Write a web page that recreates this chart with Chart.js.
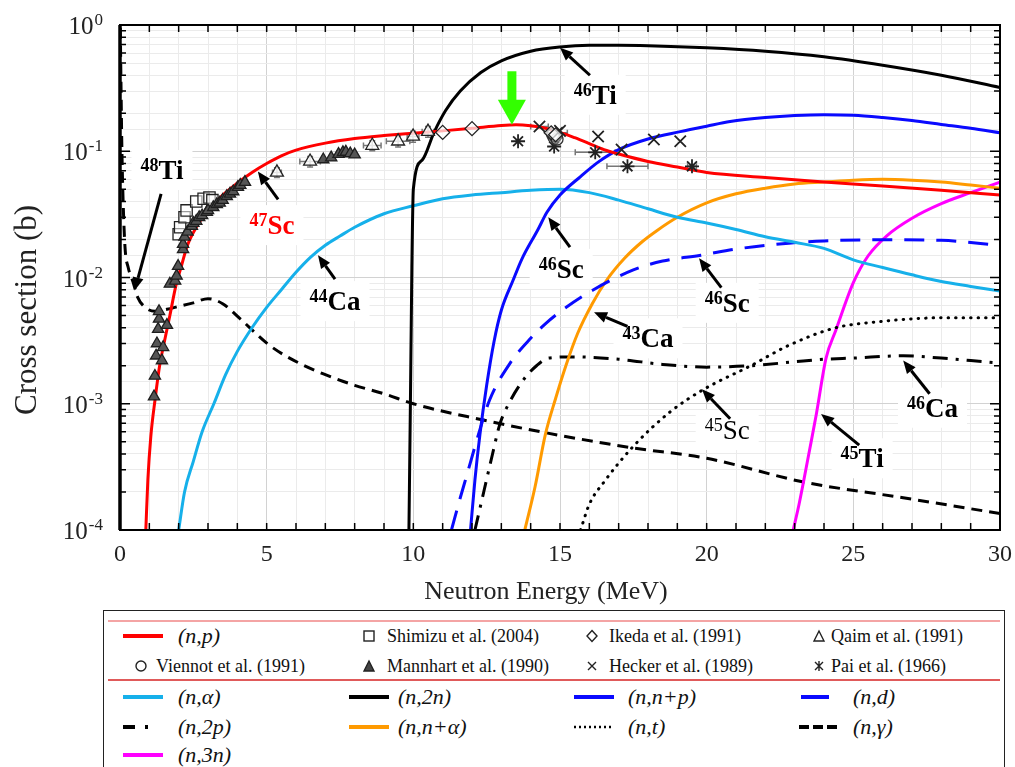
<!DOCTYPE html>
<html>
<head>
<meta charset="utf-8">
<script src="https://cdn.jsdelivr.net/npm/chart.js@4.4.1/dist/chart.umd.min.js"></script>
<style>
  body { margin: 0; background: #fff; width: 1015px; height: 767px; overflow: hidden; position: relative; font-family: "Liberation Serif", serif; }
  #wrap { position: absolute; left: 0; top: 0; width: 1015px; height: 615px; }
  #legend { position: absolute; left: 103px; top: 610px; width: 902px; height: 170px; border: 1.5px solid #222; box-sizing: border-box; background: #fff; }
  .it { position: absolute; white-space: nowrap; line-height: 1; color: #111; }
  .rx { font-style: italic; font-size: 22px; }
  .src { font-size: 18px; }
  .it svg { display: block; }
</style>
</head>
<body>
<div id="wrap"><canvas id="chart"></canvas></div>
<div id="legend"></div>
<script>
/* ---------- evaluated cross sections (E in MeV, sigma in b) ---------- */
const npE   = [0.88, 0.95, 1.05, 1.2, 1.35, 1.5, 1.7, 1.9, 2.1, 2.3, 2.6, 3.0, 3.5, 4.0, 4.5, 5.0, 5.5, 6.0, 7.0, 8.0, 9.0, 10, 11, 12, 13, 13.5, 14, 14.5, 15, 15.5, 16, 16.5, 17, 18, 19, 20, 22, 24, 26, 28, 30];
const npS   = [1e-4, 2.5e-4, 5.5e-4, 1.1e-3, 2e-3, 3e-3, 5e-3, 8.5e-3, 0.0125, 0.018, 0.025, 0.034, 0.045, 0.056, 0.068, 0.08, 0.092, 0.102, 0.116, 0.126, 0.133, 0.139, 0.145, 0.152, 0.16, 0.162, 0.159, 0.152, 0.141, 0.128, 0.115, 0.103, 0.095, 0.083, 0.075, 0.068, 0.062, 0.057, 0.053, 0.049, 0.045];

const naE   = [2.0, 2.2, 2.5, 2.8, 3.2, 3.6, 4.0, 4.5, 5.0, 5.5, 6.0, 6.5, 7.0, 7.5, 8.0, 9.0, 10, 11, 12, 13, 14, 15, 16, 17, 18, 19, 20, 21, 22, 23, 24, 25, 26, 27, 28, 29, 30];
const naS   = [1e-4, 2e-4, 3.5e-4, 6e-4, 1e-3, 1.7e-3, 2.6e-3, 4e-3, 5.8e-3, 8e-3, 0.011, 0.0145, 0.018, 0.0213, 0.025, 0.032, 0.037, 0.042, 0.045, 0.047, 0.049, 0.05, 0.047, 0.041, 0.035, 0.03, 0.027, 0.024, 0.021, 0.019, 0.017, 0.0138, 0.012, 0.0105, 0.0093, 0.0085, 0.0078];

const n2nE  = [9.85, 9.9, 9.95, 10.0, 10.3, 10.7, 11.1, 11.6, 12.3, 13, 14, 15, 16, 17, 18, 20, 22, 24, 26, 28, 30];
const n2nS  = [1e-4, 1e-3, 0.012, 0.05, 0.085, 0.14, 0.21, 0.3, 0.42, 0.52, 0.62, 0.67, 0.69, 0.69, 0.685, 0.66, 0.62, 0.56, 0.48, 0.4, 0.32];

const nnpE  = [11.95, 12.1, 12.27, 12.5, 12.75, 13.0, 13.4, 13.7, 14.25, 14.56, 15.0, 15.7, 16.3, 17, 18, 19.1, 20, 20.8, 22, 23, 24, 25, 26, 27, 28, 29, 30];
const nnpS  = [1e-4, 2.5e-4, 5.7e-4, 1.4e-3, 3.1e-3, 5.5e-3, 9.5e-3, 0.014, 0.024, 0.033, 0.045, 0.063, 0.082, 0.103, 0.125, 0.143, 0.158, 0.172, 0.185, 0.192, 0.195, 0.193, 0.185, 0.175, 0.163, 0.152, 0.14];

const ndE   = [11.3, 11.6, 11.8, 12.2, 12.6, 13.3, 14, 14.5, 15.07, 16.1, 17.5, 18.5, 19.8, 21, 22.8, 24, 26.3, 28, 30];
const ndS   = [1e-4, 1.8e-4, 2.6e-4, 5.5e-4, 1.07e-3, 2.1e-3, 3.3e-3, 4.3e-3, 5.5e-3, 7.9e-3, 0.0115, 0.0135, 0.015, 0.0168, 0.0187, 0.0195, 0.0199, 0.0197, 0.018];

const n2pE  = [12.1, 12.4, 12.7, 12.95, 13.3, 13.8, 14.2, 14.6, 15.5, 17, 18.5, 20, 21.5, 23, 24, 25, 26.7, 28, 29, 30];
const n2pS  = [1e-4, 2e-4, 4e-4, 6.9e-4, 1.05e-3, 1.6e-3, 2.0e-3, 2.3e-3, 2.35e-3, 2.25e-3, 2.05e-3, 1.95e-3, 2.0e-3, 2.15e-3, 2.25e-3, 2.3e-3, 2.4e-3, 2.3e-3, 2.2e-3, 2.1e-3];

const nnaE  = [13.8, 14.15, 14.5, 14.85, 15.2, 15.6, 16.1, 16.6, 17.2, 17.8, 18.3, 19, 20, 21, 22, 23, 24, 25, 26, 27, 28, 29, 30];
const nnaS  = [1e-4, 2.2e-4, 5.7e-4, 1.1e-3, 2e-3, 3.6e-3, 6.2e-3, 9.6e-3, 0.0142, 0.0192, 0.0235, 0.030, 0.039, 0.046, 0.051, 0.055, 0.057, 0.059, 0.06, 0.059, 0.057, 0.054, 0.051];

const ntE   = [15.7, 16.0, 16.5, 17.5, 18.75, 19.9, 21.5, 22.8, 24.4, 26, 27, 28, 30];
const ntS   = [1e-4, 1.6e-4, 2.4e-4, 4.6e-4, 8.6e-4, 1.3e-3, 2.0e-3, 2.9e-3, 4.0e-3, 4.5e-3, 4.7e-3, 4.8e-3, 4.8e-3];

const ngE   = [0.01, 0.03, 0.06, 0.1, 0.17, 0.28, 0.44, 0.6, 0.9, 1.2, 1.6, 2.0, 2.5, 3.0, 3.5, 4.1, 5.1, 6.1, 7.0, 8.0, 9.0, 10, 12.3, 14.5, 17.4, 20, 23.3, 26.7, 30];
const ngS   = [0.95, 0.4, 0.12, 0.045, 0.0175, 0.012, 9.3e-3, 7e-3, 5.7e-3, 5.4e-3, 5.6e-3, 5.9e-3, 6.3e-3, 6.8e-3, 6.2e-3, 4.7e-3, 2.9e-3, 2.1e-3, 1.7e-3, 1.4e-3, 1.2e-3, 1.0e-3, 7.5e-4, 5.9e-4, 4.5e-4, 3.7e-4, 2.4e-4, 1.8e-4, 1.35e-4];

const n3nE  = [22.95, 23.15, 23.3, 23.5, 23.74, 24.07, 24.4, 25.0, 25.5, 26.15, 27, 28, 29, 30];
const n3nS  = [1e-4, 1.6e-4, 2.4e-4, 4.2e-4, 8.3e-4, 2.3e-3, 3.8e-3, 9.1e-3, 0.0148, 0.0215, 0.0295, 0.0385, 0.047, 0.057];

/* ---------- experimental (n,p) data ---------- */
const shimizuE  = [2.0, 2.05, 2.2, 2.27, 2.6, 2.85, 3.05, 3.15];
const shimizuS  = [0.022, 0.025, 0.030, 0.034, 0.040, 0.042, 0.043, 0.041];

const ikedaE    = [11.0, 12.0, 14.7, 14.85];
const ikedaS    = [0.141, 0.151, 0.14, 0.135];

const qaimE     = [5.35, 6.48, 8.6, 9.48, 9.99, 10.5];
const qaimS     = [0.068, 0.083, 0.111, 0.12, 0.131, 0.143];
const qaimDE    = [0.15, 0.35, 0.3, 0.4, 0.2, 0.2];
const qaimDS    = [0.006, 0.008, 0.01, 0.012, 0.013, 0.014];

const viennotE  = [14.75, 14.8, 14.85, 14.9];
const viennotS  = [0.135, 0.128, 0.132, 0.125];

const mannhartE = [1.16, 1.19, 1.23, 1.26, 1.43, 1.47, 1.30, 1.6, 1.33, 1.33, 1.70, 1.88, 1.93, 1.98, 2.15, 2.15, 2.2, 2.3, 2.45, 2.5, 2.6, 2.7, 2.8, 2.96, 3.0, 3.18, 3.3, 3.4, 3.5, 3.64, 3.75, 3.86, 4.02, 4.1, 4.26,
                   6.93, 7.2, 7.45, 7.6, 7.7, 7.85, 8.0];
const mannhartS = [1.14e-3, 1.66e-3, 2.4e-3, 3.0e-3, 2.2e-3, 2.8e-3, 3.9e-3, 4.2e-3, 4.7e-3, 5.4e-3, 8.9e-3, 9.4e-3, 0.0103, 0.0123, 0.0167, 0.0184, 0.021, 0.023, 0.0255, 0.027, 0.028, 0.030, 0.031, 0.033, 0.034, 0.036, 0.038, 0.039, 0.041, 0.044, 0.046, 0.048, 0.052, 0.054, 0.057,
                   0.086, 0.089, 0.095, 0.098, 0.099, 0.096, 0.094];

const heckerE   = [14.3, 14.9, 15.0, 16.3, 17.1, 18.2, 19.1];
const heckerS   = [0.157, 0.14, 0.145, 0.131, 0.103, 0.124, 0.12];
const heckerDE  = [0.3, 0.35, 0, 0, 0, 0, 0];

const paiE      = [13.57, 14.8, 16.2, 17.3, 19.5];
const paiS      = [0.12, 0.109, 0.098, 0.076, 0.076];
const paiDE     = [0, 0, 0.68, 0.7, 0.15];

/* ---------- annotations (data coordinates) ---------- */
const isoLabels = [
  { mass: '48', sym: 'Ti', e: 1.43,  s: 0.071,  color: '#000',    bold: true },
  { mass: '47', sym: 'Sc', e: 5.18,  s: 0.026,  color: '#ff0000', bold: true },
  { mass: '44', sym: 'Ca', e: 7.33,  s: 6.5e-3, color: '#000',    bold: true },
  { mass: '46', sym: 'Ti', e: 16.2,  s: 0.28,   color: '#000',    bold: true },
  { mass: '46', sym: 'Sc', e: 15.04, s: 0.0117, color: '#000',    bold: true },
  { mass: '46', sym: 'Sc', e: 20.7,  s: 6.3e-3, color: '#000',    bold: true },
  { mass: '43', sym: 'Ca', e: 18.0,  s: 3.3e-3, color: '#000',    bold: true },
  { mass: '45', sym: 'Sc', e: 20.7,  s: 6.2e-4, color: '#000',    bold: false },
  { mass: '45', sym: 'Ti', e: 25.3,  s: 3.7e-4, color: '#000',    bold: true },
  { mass: '46', sym: 'Ca', e: 27.7,  s: 9.3e-4, color: '#000',    bold: true }
];
const arrowFrom = [[1.4, 0.046], [5.39, 0.0416], [7.33, 9.7e-3], [16.02, 0.40], [15.34, 0.0174], [20.5, 8.3e-3], [17.3, 4.1e-3], [20.8, 7.6e-4], [25.2, 4.7e-4], [27.6, 1.2e-3]];
const arrowTo   = [[0.5, 7.9e-3], [4.7, 0.069], [6.75, 0.015], [15.0, 0.66], [14.6, 0.030], [19.74, 0.0142], [16.16, 5.3e-3], [19.84, 1.3e-3], [23.9, 8.3e-4], [26.7, 2.2e-3]];
const greenArrow = { e: 13.36, top: 0.43, tip: 0.162 };

const yDecades = [0, -1, -2, -3, -4];

/* ---------- helpers ---------- */
const toPts = (E, S) => E.map((e, i) => ({ x: e, y: S[i] }));

function curve(label, E, S, color, dash, cap) {
  return {
    label, data: toPts(E, S), showLine: true, borderColor: color, borderWidth: 3,
    borderDash: dash || [], borderCapStyle: cap || 'butt', pointRadius: 0,
    cubicInterpolationMode: 'monotone', fill: false, order: 2
  };
}

function points(label, E, S, style, radius, bg, border, extra) {
  return Object.assign({
    label, data: toPts(E, S), showLine: false, pointStyle: style, pointRadius: radius,
    pointBackgroundColor: bg, pointBorderColor: border, pointBorderWidth: 1.3, order: 0
  }, extra || {});
}

function isoFonts(l) {
  const w = l.bold ? 'bold ' : '';
  return { big: w + '27px "Liberation Serif"', small: w + '18px "Liberation Serif"' };
}

function isoMetrics(ctx, l) {
  const f = isoFonts(l);
  ctx.font = f.small; const w1 = ctx.measureText(l.mass).width;
  ctx.font = f.big;   const w2 = ctx.measureText(l.sym).width;
  return { w1, w2, f };
}

function drawArrow(ctx, x1, y1, x2, y2) {
  const a = Math.atan2(y2 - y1, x2 - x1), head = 13, half = 5.5;
  const bx = x2 - head * Math.cos(a), by = y2 - head * Math.sin(a);
  ctx.beginPath(); ctx.moveTo(x1, y1); ctx.lineTo(bx, by); ctx.stroke();
  ctx.beginPath(); ctx.moveTo(x2, y2);
  ctx.lineTo(bx + half * Math.sin(a), by - half * Math.cos(a));
  ctx.lineTo(bx - half * Math.sin(a), by + half * Math.cos(a));
  ctx.closePath(); ctx.fill();
}

const isMajor = v => Math.abs(Math.log10(v) - Math.round(Math.log10(v))) < 1e-9;

/* ---------- overlay plugin: frame, inward ticks, labels, arrows, error bars ---------- */
const overlay = {
  id: 'overlay',
  beforeDatasetsDraw(chart) {
    const { ctx } = chart, X = chart.scales.x, Y = chart.scales.y;
    ctx.save();
    // white boxes behind isotope labels
    ctx.fillStyle = '#fff';
    isoLabels.forEach(l => {
      const m = isoMetrics(ctx, l), cx = X.getPixelForValue(l.e), cy = Y.getPixelForValue(l.s);
      const w = m.w1 + m.w2;
      ctx.fillRect(cx - w / 2 - 9, cy - 20, w + 18, 40);
    });
    // error bars
    ctx.strokeStyle = '#777'; ctx.lineWidth = 1.5;
    chart.data.datasets.forEach(ds => {
      if (!ds.xErr && !ds.yErr) return;
      ds.data.forEach((p, i) => {
        const x = X.getPixelForValue(p.x), y = Y.getPixelForValue(p.y);
        const dx = ds.xErr ? ds.xErr[i] : 0, dy = ds.yErr ? ds.yErr[i] : 0;
        if (dx > 0) {
          const xa = X.getPixelForValue(p.x - dx), xb = X.getPixelForValue(p.x + dx);
          ctx.beginPath(); ctx.moveTo(xa, y); ctx.lineTo(xb, y);
          ctx.moveTo(xa, y - 3); ctx.lineTo(xa, y + 3); ctx.moveTo(xb, y - 3); ctx.lineTo(xb, y + 3); ctx.stroke();
        }
        if (dy > 0) {
          const ya = Y.getPixelForValue(p.y - dy), yb = Y.getPixelForValue(p.y + dy);
          ctx.beginPath(); ctx.moveTo(x, ya); ctx.lineTo(x, yb);
          ctx.moveTo(x - 3, ya); ctx.lineTo(x + 3, ya); ctx.moveTo(x - 3, yb); ctx.lineTo(x + 3, yb); ctx.stroke();
        }
      });
    });
    ctx.restore();
  },
  afterDatasetsDraw(chart) {
    const { ctx, chartArea: a } = chart, X = chart.scales.x, Y = chart.scales.y;
    ctx.save();
    // arrows
    ctx.strokeStyle = '#000'; ctx.fillStyle = '#000'; ctx.lineWidth = 3;
    arrowFrom.forEach((f, i) => {
      const t = arrowTo[i];
      drawArrow(ctx, X.getPixelForValue(f[0]), Y.getPixelForValue(f[1]), X.getPixelForValue(t[0]), Y.getPixelForValue(t[1]));
    });
    // isotope labels
    ctx.textBaseline = 'alphabetic'; ctx.textAlign = 'left';
    isoLabels.forEach(l => {
      const m = isoMetrics(ctx, l), cx = X.getPixelForValue(l.e), cy = Y.getPixelForValue(l.s);
      const x0 = cx - (m.w1 + m.w2) / 2;
      ctx.fillStyle = l.color;
      ctx.font = m.f.small; ctx.fillText(l.mass, x0, cy + 1);
      ctx.font = m.f.big;   ctx.fillText(l.sym, x0 + m.w1, cy + 9);
    });
    // green marker arrow
    const gx = X.getPixelForValue(greenArrow.e), gTop = Y.getPixelForValue(greenArrow.top), gTip = Y.getPixelForValue(greenArrow.tip);
    ctx.fillStyle = '#33ff00';
    ctx.fillRect(gx - 4.5, gTop, 9, gTip - gTop - 24);
    ctx.beginPath(); ctx.moveTo(gx - 14, gTip - 25); ctx.lineTo(gx + 14, gTip - 25); ctx.lineTo(gx, gTip); ctx.closePath(); ctx.fill();
    // inward tick marks
    ctx.strokeStyle = '#000'; ctx.lineWidth = 1.5;
    ctx.beginPath();
    for (let e = 1; e < 30; e++) {
      const x = X.getPixelForValue(e);
      ctx.moveTo(x, a.bottom); ctx.lineTo(x, a.bottom - 7);
      ctx.moveTo(x, a.top); ctx.lineTo(x, a.top + 7);
    }
    for (let n = -4; n < 0; n++) {
      for (let k = 1; k <= 9; k++) {
        const y = Y.getPixelForValue(k * Math.pow(10, n)), len = k === 1 ? 10 : 6;
        ctx.moveTo(a.left, y); ctx.lineTo(a.left + len, y);
        ctx.moveTo(a.right, y); ctx.lineTo(a.right - len, y);
      }
    }
    ctx.stroke();
    // frame
    ctx.lineWidth = 2;
    ctx.strokeRect(a.left, a.top, a.right - a.left, a.bottom - a.top);
    ctx.lineWidth = 3.5;
    ctx.beginPath(); ctx.moveTo(a.left, a.top); ctx.lineTo(a.left, a.bottom); ctx.stroke();
    ctx.restore();
  },
  afterDraw(chart) {
    const { ctx, chartArea: a } = chart, Y = chart.scales.y;
    ctx.save();
    ctx.fillStyle = '#222'; ctx.textBaseline = 'alphabetic'; ctx.textAlign = 'left';
    // decade labels 10^n, right edge near x = 102
    yDecades.forEach(n => {
      const y = Y.getPixelForValue(Math.pow(10, n));
      const sup = n === 0 ? '0' : '-' + (-n);
      ctx.font = '17px "Liberation Serif"'; const ws = ctx.measureText(sup).width;
      ctx.font = '25px "Liberation Serif"'; const wb = ctx.measureText('10').width;
      const x0 = 103 - ws - wb - 1;
      ctx.fillText('10', x0, y + 9);
      ctx.font = '17px "Liberation Serif"';
      ctx.fillText(sup, x0 + wb + 1, y);
    });
    ctx.textAlign = 'center'; ctx.textBaseline = 'middle';
    ctx.font = '26px "Liberation Serif"';
    ctx.fillText('Neutron Energy (MeV)', (a.left + a.right) / 2 - 14, 592);
    ctx.translate(28, 310); ctx.rotate(-Math.PI / 2);
    ctx.font = '31px "Liberation Serif"';
    ctx.fillText('Cross section (b)', 0, 0);
    ctx.restore();
  }
};

/* ---------- chart ---------- */
new Chart(document.getElementById('chart'), {
  type: 'scatter',
  data: {
    datasets: [
      points('Mannhart et al. (1990)', mannhartE, mannhartS, 'triangle', 6.5, '#555555', '#1e1e1e'),
      points('Shimizu et al. (2004)', shimizuE, shimizuS, 'rect', 8, 'rgba(255,255,255,0.55)', '#222'),
      points('Qaim et al. (1991)', qaimE, qaimS, 'triangle', 7.5, 'rgba(255,255,255,0.8)', '#222', { xErr: qaimDE, yErr: qaimDS }),
      points('Ikeda et al. (1991)', ikedaE, ikedaS, 'rectRot', 7, 'rgba(255,255,255,0.7)', '#222'),
      points('Viennot et al. (1991)', viennotE, viennotS, 'circle', 6, 'rgba(255,255,255,0.3)', '#333'),
      points('Hecker et al. (1989)', heckerE, heckerS, 'crossRot', 8, '#222', '#222', { xErr: heckerDE, pointBorderWidth: 1.8 }),
      points('Pai et al. (1966)', paiE, paiS, 'star', 7, '#222', '#222', { xErr: paiDE, pointBorderWidth: 1.8 }),
      curve('(n,p)', npE, npS, '#ff0000'),
      curve('(n,2n)', n2nE, n2nS, '#000000'),
      curve('(n,n+p)', nnpE, nnpS, '#0a0aff'),
      curve('(n,α)', naE, naS, '#16b0ea'),
      curve('(n,d)', ndE, ndS, '#0a0aff', [20, 12]),
      curve('(n,n+α)', nnaE, nnaS, '#ff9a00'),
      curve('(n,2p)', n2pE, n2pS, '#000000', [15, 8, 3, 8]),
      curve('(n,t)', ntE, ntS, '#000000', [0.5, 7], 'round'),
      curve('(n,3n)', n3nE, n3nS, '#ff00ff'),
      curve('(n,γ)', ngE, ngS, '#000000', [11, 7])
    ]
  },
  options: {
    responsive: true, maintainAspectRatio: false, animation: false, devicePixelRatio: 1,
    layout: { padding: { left: 0, right: 15, top: 25, bottom: 0 } },
    plugins: { legend: { display: false }, tooltip: { enabled: false } },
    scales: {
      x: {
        type: 'linear', min: 0, max: 30,
        afterFit: s => { s.height = 85; s.paddingLeft = 0; s.paddingRight = 0; },
        ticks: {
          stepSize: 1, autoSkip: false, maxRotation: 0, padding: 10,
          color: '#222', font: { family: 'Liberation Serif', size: 24 },
          callback: v => (v % 5 === 0 ? String(v) : '')
        },
        grid: { drawTicks: false, color: c => (c.tick && c.tick.value % 5 === 0 ? '#d2d2d2' : '#ebebeb'), lineWidth: 1 },
        border: { display: false }
      },
      y: {
        type: 'logarithmic', min: 1e-4, max: 1,
        afterFit: s => { s.width = 120; s.paddingTop = 0; s.paddingBottom = 0; },
        ticks: { display: false, autoSkip: false },
        grid: { drawTicks: false, color: c => (c.tick && isMajor(c.tick.value) ? '#d2d2d2' : '#ebebeb'), lineWidth: 1 },
        border: { display: false }
      }
    }
  },
  plugins: [overlay]
});

/* ---------- legend box ---------- */
const legendRows = [636, 666, 697, 727, 755];
const legendItems = [
  { row: 0, x: 122, sample: 'line', w: 40, color: '#ff0000', text: '(n,p)', tx: 177, cls: 'rx' },
  { row: 0, x: 361, sample: 'square', text: 'Shimizu et al. (2004)', tx: 386, cls: 'src' },
  { row: 0, x: 584, sample: 'diamond', text: 'Ikeda et al. (1991)', tx: 608, cls: 'src' },
  { row: 0, x: 811, sample: 'triOpen', text: 'Qaim et al. (1991)', tx: 830, cls: 'src' },
  { row: 1, x: 133, sample: 'circle', text: 'Viennot et al. (1991)', tx: 155, cls: 'src' },
  { row: 1, x: 361, sample: 'triFill', text: 'Mannhart et al. (1990)', tx: 386, cls: 'src' },
  { row: 1, x: 584, sample: 'cross', text: 'Hecker et al. (1989)', tx: 608, cls: 'src' },
  { row: 1, x: 811, sample: 'star', text: 'Pai et al. (1966)', tx: 830, cls: 'src' },
  { row: 2, x: 122, sample: 'line', w: 40, color: '#16b0ea', text: '(n,α)', tx: 177, cls: 'rx' },
  { row: 2, x: 348, sample: 'line', w: 40, color: '#000', text: '(n,2n)', tx: 397, cls: 'rx' },
  { row: 2, x: 573, sample: 'line', w: 40, color: '#0a0aff', text: '(n,n+p)', tx: 627, cls: 'rx' },
  { row: 2, x: 800, sample: 'line', w: 28, color: '#0a0aff', text: '(n,d)', tx: 852, cls: 'rx' },
  { row: 3, x: 122, sample: 'line', w: 32, color: '#000', dash: '12 10 3 10', text: '(n,2p)', tx: 177, cls: 'rx' },
  { row: 3, x: 348, sample: 'line', w: 40, color: '#ff9a00', text: '(n,n+α)', tx: 397, cls: 'rx' },
  { row: 3, x: 573, sample: 'line', w: 40, color: '#000', dash: '2 3', thin: true, text: '(n,t)', tx: 627, cls: 'rx' },
  { row: 3, x: 798, sample: 'line', w: 40, color: '#000', dash: '10 4', text: '(n,γ)', tx: 852, cls: 'rx' },
  { row: 4, x: 122, sample: 'line', w: 40, color: '#ff00ff', text: '(n,3n)', tx: 177, cls: 'rx' }
];

function sampleSvg(it) {
  const s = 'stroke="#222" stroke-width="1.4"';
  switch (it.sample) {
    case 'line':
      return `<svg width="${it.w}" height="10"><line x1="0" y1="5" x2="${it.w}" y2="5" stroke="${it.color}" stroke-width="${it.thin ? 2.5 : 4}"${it.dash ? ` stroke-dasharray="${it.dash}"` : ''}/></svg>`;
    case 'square':  return `<svg width="14" height="14"><rect x="2" y="2" width="10" height="10" fill="none" ${s}/></svg>`;
    case 'diamond': return `<svg width="14" height="14"><polygon points="7,1.5 12,7 7,12.5 2,7" fill="none" ${s}/></svg>`;
    case 'triOpen': return `<svg width="14" height="14"><polygon points="7,2 12,12 2,12" fill="none" ${s}/></svg>`;
    case 'triFill': return `<svg width="14" height="14"><polygon points="7,2 12,12 2,12" fill="#444" ${s}/></svg>`;
    case 'circle':  return `<svg width="14" height="14"><circle cx="7" cy="7" r="5" fill="none" ${s}/></svg>`;
    case 'cross':   return `<svg width="14" height="14"><path d="M3,3 L11,11 M11,3 L3,11" ${s}/></svg>`;
    case 'star':    return `<svg width="14" height="14"><path d="M3,3 L11,11 M11,3 L3,11 M7,2 L7,12" ${s}/></svg>`;
  }
  return '';
}

const legendEl = document.getElementById('legend');
const boxLeft = 103, boxTop = 610;
let html = '';
html += `<div style="position:absolute;left:4px;top:${620 - boxTop - 1}px;width:892px;height:2px;background:#f4a4a4"></div>`;
html += `<div style="position:absolute;left:4px;top:${679 - boxTop - 1}px;width:892px;height:1.5px;background:#e05a5a"></div>`;
legendItems.forEach(it => {
  const cy = legendRows[it.row] - boxTop;
  const h = it.sample === 'line' ? 10 : 14;
  html += `<div class="it" style="left:${it.x - boxLeft}px;top:${cy - h / 2 - 1}px">${sampleSvg(it)}</div>`;
  const fs = it.cls === 'rx' ? 22 : 18;
  html += `<div class="it ${it.cls}" style="left:${it.tx - boxLeft}px;top:${cy - fs / 2 - 1}px">${it.text}</div>`;
});
legendEl.innerHTML = html;
</script>
</body>
</html>
